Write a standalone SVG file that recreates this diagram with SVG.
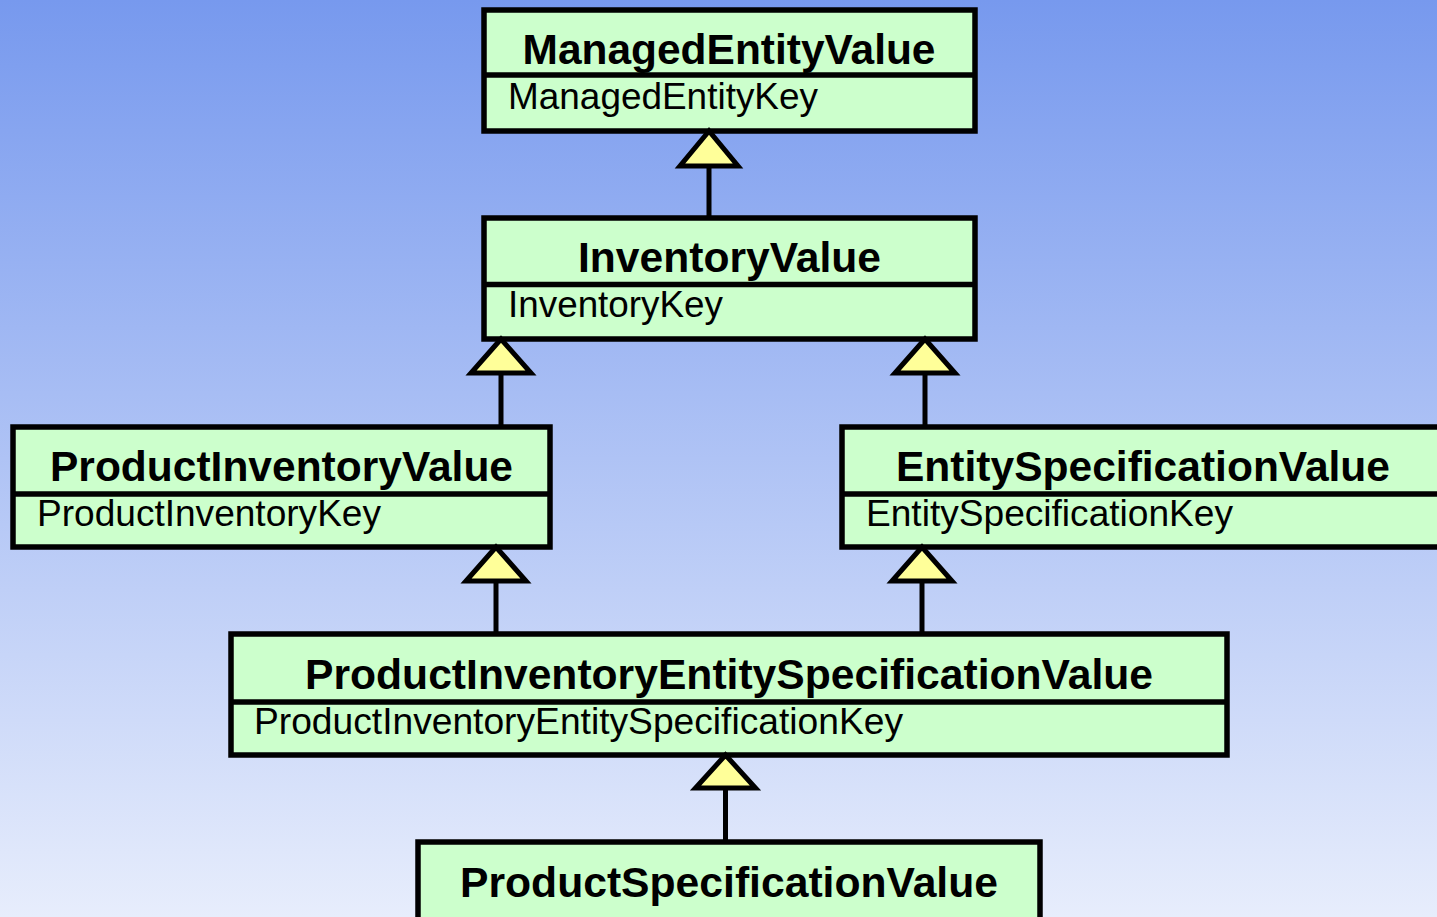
<svg xmlns="http://www.w3.org/2000/svg" width="1437" height="917" viewBox="0 0 1437 917">
<defs>
<linearGradient id="bg" x1="0" y1="0" x2="0" y2="1">
<stop offset="0" stop-color="#7799EE"/>
<stop offset="1" stop-color="#E7EDFC"/>
</linearGradient>
</defs>
<style>
.box{fill:#CCFFCC;stroke:#000;stroke-width:5.5}
.div{stroke:#000;stroke-width:5.5}
.t{font-family:"Liberation Sans",Arial,sans-serif;font-weight:bold;font-size:43px;text-anchor:middle;fill:#000}
.k{font-family:"Liberation Sans",Arial,sans-serif;font-size:37px;fill:#000}
.ln{stroke:#000;stroke-width:5;fill:none}
.tri{fill:#FFFF99;stroke:#000;stroke-width:5;stroke-linejoin:miter}
</style>
<rect x="0" y="0" width="1437" height="917" fill="url(#bg)"/>
<g id="connectors">
<line class="ln" x1="709" y1="165" x2="709" y2="218"/>
<line class="ln" x1="501" y1="372" x2="501" y2="427"/>
<line class="ln" x1="925" y1="372" x2="925" y2="427"/>
<line class="ln" x1="496" y1="580" x2="496" y2="634"/>
<line class="ln" x1="922" y1="580" x2="922" y2="634"/>
<line class="ln" x1="725.5" y1="787" x2="725.5" y2="842"/>
</g>
<g id="ManagedEntityValue">
<rect class="box" x="484" y="10" width="491" height="121"/>
<line class="div" x1="484" y1="75" x2="975" y2="75"/>
<text class="t" x="729" y="64" textLength="413" lengthAdjust="spacingAndGlyphs">ManagedEntityValue</text>
<text class="k" x="508" y="109" textLength="310" lengthAdjust="spacingAndGlyphs">ManagedEntityKey</text>
</g>
<g id="InventoryValue">
<rect class="box" x="484" y="218" width="491" height="121"/>
<line class="div" x1="484" y1="284.5" x2="975" y2="284.5"/>
<text class="t" x="729.5" y="272" textLength="303" lengthAdjust="spacingAndGlyphs">InventoryValue</text>
<text class="k" x="508" y="317" textLength="215" lengthAdjust="spacingAndGlyphs">InventoryKey</text>
</g>
<g id="ProductInventoryValue">
<rect class="box" x="13" y="427" width="537" height="120"/>
<line class="div" x1="13" y1="494" x2="550" y2="494"/>
<text class="t" x="281.5" y="481" textLength="463" lengthAdjust="spacingAndGlyphs">ProductInventoryValue</text>
<text class="k" x="37" y="526" textLength="344" lengthAdjust="spacingAndGlyphs">ProductInventoryKey</text>
</g>
<g id="EntitySpecificationValue">
<rect class="box" x="842" y="427" width="603" height="120"/>
<line class="div" x1="842" y1="494" x2="1445" y2="494"/>
<text class="t" x="1143" y="481" textLength="494" lengthAdjust="spacingAndGlyphs">EntitySpecificationValue</text>
<text class="k" x="866" y="526" textLength="367" lengthAdjust="spacingAndGlyphs">EntitySpecificationKey</text>
</g>
<g id="ProductInventoryEntitySpecificationValue">
<rect class="box" x="231" y="634" width="996" height="121"/>
<line class="div" x1="231" y1="702" x2="1227" y2="702"/>
<text class="t" x="729" y="689" textLength="848" lengthAdjust="spacingAndGlyphs">ProductInventoryEntitySpecificationValue</text>
<text class="k" x="254" y="734" textLength="649" lengthAdjust="spacingAndGlyphs">ProductInventoryEntitySpecificationKey</text>
</g>
<g id="ProductSpecificationValue">
<rect class="box" x="418" y="842" width="622" height="120"/>
<text class="t" x="729" y="897" textLength="538" lengthAdjust="spacingAndGlyphs">ProductSpecificationValue</text>
</g>
<g id="arrowheads">
<polygon class="tri" points="709,131 680,166 738,166"/>
<polygon class="tri" points="501,339 471,373 531,373"/>
<polygon class="tri" points="925,339 895,373 955,373"/>
<polygon class="tri" points="496,547 466,581 526,581"/>
<polygon class="tri" points="922,547 892,581 952,581"/>
<polygon class="tri" points="725.5,755 695.5,788 755.5,788"/>
</g>
</svg>
